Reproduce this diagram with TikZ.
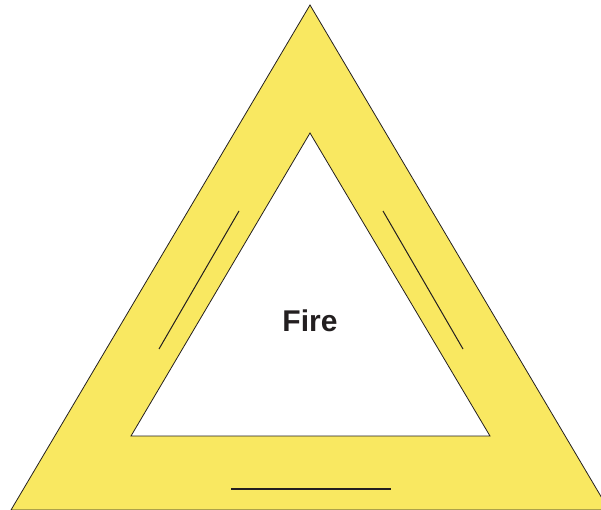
\documentclass[tikz,border=0pt]{standalone}
\usepackage{fontspec}
\setmainfont{Liberation Sans}
\usepackage{xcolor}
\usepackage{tikz}
\usetikzlibrary{positioning,calc}
\definecolor{fireyellow}{HTML}{F9E861}
\definecolor{fireline}{HTML}{231F20}
\tikzset{
  ring/.style={fill=fireyellow, draw=fireline, line width=0.6pt, even odd rule},
  mark line/.style={draw=fireline, line width=0.75pt},
  label/.style={font=\bfseries\fontsize{22.5}{26}\selectfont, text=fireline}
}

\begin{document}
\begin{tikzpicture}[x=0.75pt, y=-0.75pt]
  \useasboundingbox (0,0) rectangle (601,510);
  \clip (0,0) rectangle (601,510);

  % triangle band
  \path[ring] (310,5) -- (609,510) -- (11,510) -- cycle
              (310,133) -- (490,436) -- (131,436) -- cycle;

  % lines along the sides
  \coordinate (l1) at (239,211);
  \coordinate (l2) at (159,349);
  \coordinate (r1) at (383,211);
  \coordinate (r2) at (463,349);
  \coordinate (b1) at (231,489);
  \coordinate (b2) at (391,489);
  \draw[mark line] (l1) -- (l2);
  \draw[mark line] (r1) -- (r2);
  \draw[mark line, line width=1.2pt] (b1) -- (b2);

  \node[label] (fire) at (310,321) {Fire};
\end{tikzpicture}
\end{document}
